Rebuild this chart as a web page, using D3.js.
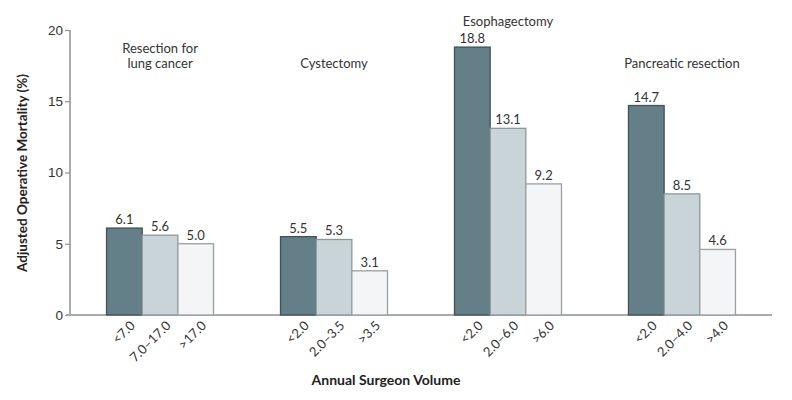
<!DOCTYPE html>
<html>
<head>
<meta charset="utf-8">
<script src="https://cdn.jsdelivr.net/npm/d3@7"></script>
<style>
  body { margin: 0; background: #fff; }
  svg { display: block; font-family: Lato, "Open Sans", sans-serif; }
</style>
</head>
<body>
<svg></svg>
<script>
const procedures = ["Resection for lung cancer", "Cystectomy", "Esophagectomy", "Pancreatic resection"];
const titleLines = [["Resection for", "lung cancer"], ["Cystectomy"], ["Esophagectomy"], ["Pancreatic resection"]];
const volumeLabels = [
    ["<7.0", "7.0\u201317.0", ">17.0"],
    ["<2.0", "2.0\u20133.5", ">3.5"],
    ["<2.0", "2.0\u20136.0", ">6.0"],
    ["<2.0", "2.0\u20134.0", ">4.0"]
];
const mortality = [
    [6.1, 5.6, 5.0],
    [5.5, 5.3, 3.1],
    [18.8, 13.1, 9.2],
    [14.7, 8.5, 4.6]
];
const yTicks = [0, 5, 10, 15, 20];

function main() {
    const width = 792;
    const height = 400;
    const fills = ["#647f87", "#c9d4d8", "#f3f5f6"];
    const strokes = ["#3f5258", "#8d979b", "#9a9fa2"];

    const svg = d3.select("svg")
        .attr("width", width)
        .attr("height", height);

    const x0 = d3.scaleBand().domain(procedures).range([70, 772])
        .paddingInner(0.385).paddingOuter(0.21);
    const x1 = d3.scaleBand().domain([0, 1, 2]).range([0, x0.bandwidth()]);
    const y = d3.scaleLinear().domain([0, 20]).range([315, 30]);

    // y axis
    const yAxis = svg.append("g")
        .attr("transform", "translate(70,0)")
        .call(d3.axisLeft(y).tickValues(yTicks).tickSize(5).tickPadding(2));
    yAxis.select(".domain").attr("stroke", "#a9acae").attr("stroke-width", 2)
        .attr("d", `M0,${y(20)}V${y(0)}`);
    yAxis.selectAll(".tick line").attr("stroke", "#8f9396").attr("stroke-width", 1.2);
    yAxis.selectAll(".tick text").attr("fill", "#333").style("font-size", "13.5px");

    // baseline
    svg.append("line")
        .attr("x1", 66).attr("x2", 772)
        .attr("y1", y(0)).attr("y2", y(0))
        .attr("stroke", "#a9acae").attr("stroke-width", 2);

    const groups = svg.selectAll("g.group")
        .data(procedures)
        .enter()
        .append("g")
        .attr("class", "group")
        .attr("transform", d => `translate(${x0(d)},0)`);

    groups.selectAll("rect")
        .data((d, i) => mortality[i])
        .enter()
        .append("rect")
        .attr("x", (v, j) => x1(j))
        .attr("y", v => y(v))
        .attr("width", x1.bandwidth())
        .attr("height", v => y(0) - y(v))
        .attr("fill", (v, j) => fills[j])
        .attr("stroke", (v, j) => strokes[j])
        .attr("stroke-width", 1.3);

    groups.selectAll("text.value")
        .data((d, i) => mortality[i])
        .enter()
        .append("text")
        .attr("class", "value")
        .attr("x", (v, j) => x1(j) + x1.bandwidth() / 2)
        .attr("y", v => y(v) - 4)
        .attr("text-anchor", "middle")
        .attr("fill", "#333")
        .style("font-size", "13px")
        .text(v => v.toFixed(1));

    groups.selectAll("text.vol")
        .data((d, i) => volumeLabels[i])
        .enter()
        .append("text")
        .attr("class", "vol")
        .attr("transform", (t, j) => `translate(${x1(j) + x1.bandwidth() / 2 + 5},${y(0) + 5}) rotate(-45)`)
        .attr("text-anchor", "end")
        .attr("dy", "0.7em")
        .attr("fill", "#333")
        .style("font-size", "13px")
        .text(t => t);

    // procedure titles
    const titleY = [null, null, 26, null];
    groups.each(function (d, i) {
        const lines = titleLines[i];
        const base = titleY[i] !== null ? titleY[i] : 68 - (lines.length - 1) * 15.5;
        const t = d3.select(this).append("text")
            .attr("text-anchor", "middle")
            .attr("fill", "#333")
            .style("font-size", "13px");
        lines.forEach((line, k) => {
            t.append("tspan")
                .attr("x", x0.bandwidth() / 2)
                .attr("y", base + k * 15.5)
                .text(line);
        });
    });

    // axis titles
    svg.append("text")
        .attr("transform", `translate(27,173) rotate(-90)`)
        .attr("text-anchor", "middle")
        .attr("fill", "#222")
        .style("font-size", "13.5px")
        .style("font-weight", "bold")
        .text("Adjusted Operative Mortality (%)");

    svg.append("text")
        .attr("x", 386)
        .attr("y", 385)
        .attr("text-anchor", "middle")
        .attr("fill", "#222")
        .style("font-size", "14px")
        .style("font-weight", "bold")
        .text("Annual Surgeon Volume");
}

main();
</script>
</body>
</html>
